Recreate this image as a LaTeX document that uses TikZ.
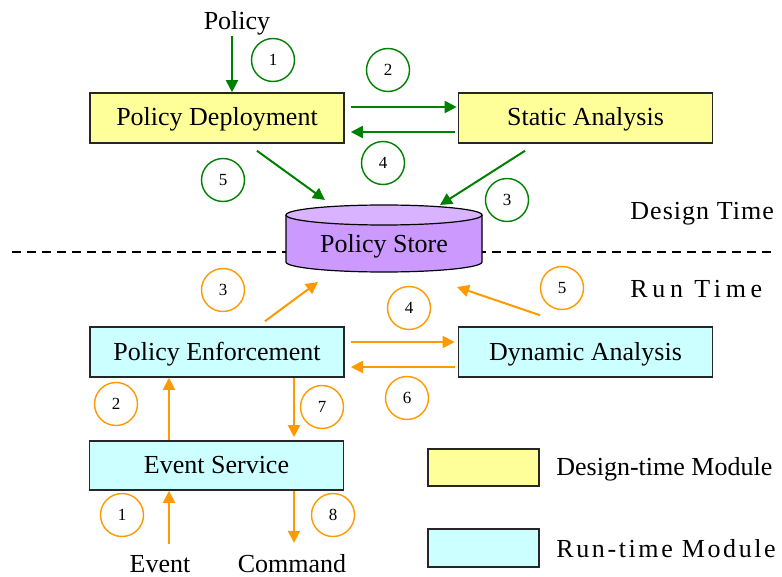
\documentclass[tikz,border=0pt]{standalone}
\usepackage{fontspec}
\setmainfont{Liberation Serif}
\newfontfamily\widefont[LetterSpace=18]{Liberation Serif}
\newfontfamily\halfwidefont[LetterSpace=10]{Liberation Serif}
\newfontfamily\slightwidefont[LetterSpace=4]{Liberation Serif}
\usetikzlibrary{arrows.meta,calc}

\definecolor{dgreen}{HTML}{008000}
\definecolor{amber}{HTML}{FF9900}
\definecolor{paleyellow}{HTML}{FFFF99}
\definecolor{palecyan}{HTML}{CCFFFF}
\definecolor{lilac}{HTML}{CC99FF}
\definecolor{lilactop}{HTML}{D9B3FF}

\tikzset{
  module/.style={draw=black!85,line width=0.8pt,minimum width=127pt,minimum height=25pt,inner sep=0pt,
    text height=9.5pt,text depth=1.5pt},
  design/.style={module,fill=paleyellow},
  runtime/.style={module,fill=palecyan},
  flow/.style={-{Triangle[length=6pt,width=6pt]},line width=1pt},
  garrow/.style={flow,draw=dgreen},
  oarrow/.style={flow,draw=amber},
  stepnum/.style={circle,line width=0.7pt,minimum size=21.5pt,inner sep=0pt,font=\fontsize{8.5}{9}\selectfont},
  stepg/.style={stepnum,draw=dgreen},
  stepo/.style={stepnum,draw=amber},
}

\begin{document}
\begin{tikzpicture}[x=0.5pt,y=-0.5pt,font=\fontsize{13}{15}\selectfont]
  \useasboundingbox (0,0) rectangle (782,577);
  % border between the two phases
  \draw[line width=0.75pt,dash pattern=on 4.5pt off 3pt] (12,252) -- (772,252);
  \node[anchor=west,inner sep=0pt] (dtime) at (630,214) {\slightwidefont Design Time};
  \node[anchor=west,inner sep=0pt] (rtime) at (630,289) {\widefont Run Time};
  % store (cylinder)
  \fill[lilac] (286,215) -- (286,262) arc[start angle=180,end angle=360,x radius=49pt,y radius=5pt] -- (482,215) -- cycle;
  \draw[line width=0.6pt] (286,215) -- (286,262) arc[start angle=180,end angle=360,x radius=49pt,y radius=5pt] -- (482,215);
  \filldraw[fill=lilactop,line width=0.6pt] (384,215) ellipse[x radius=49pt,y radius=5pt];
  \node (store) at (384,246.5) {Policy Store};
  \coordinate (stop) at (384,205);
  \coordinate (sbot) at (384,272);
  % design time
  \node[design] (pd) at (217,118) {Policy Deployment};
  \node[design] (sa) at (585.5,118) {Static Analysis};
  \node (pol) at (237,23) {Policy};
  \draw[garrow,shorten <=-3pt] ([xshift=-2.5pt]pol.south) -- ([xshift=-2.5pt]pol.south |- pd.north);
  \draw[garrow] ($(pd.east)+(6,-11)$) -- ($(sa.west)+(-1,-11)$);
  \draw[garrow] ($(sa.west)+(-3,14)$) -- ($(pd.east)+(6,14)$);
  \draw[garrow] ($(pd.south)+(40,7)$) -- ($(stop)+(-59,-5)$);
  \draw[garrow] ($(sa.south)+(-60.5,7)$) -- ($(stop)+(56,0)$);
  \node[stepg] (g1) at (273,60) {1};
  \node[stepg] (g2) at (388,70) {2};
  \node[stepg] (g3) at (507,200) {3};
  \node[stepg] (g4) at (383,163) {4};
  \node[stepg] (g5) at (223,180) {5};
  % run time
  \node[runtime] (pe) at (217,352) {Policy Enforcement};
  \node[runtime,minimum height=24.5pt] (es) at (216.5,465.5) {Event Service};
  \node[runtime] (da) at (585.5,352) {Dynamic Analysis};
  \node (ev) at (160,564) {Event};
  \node (cmd) at (292,564) {Command};
  \draw[oarrow] ($(pe.north)+(48,-5)$) -- ($(sbot)+(-66,10)$);
  \draw[oarrow] ($(da.north)+(-45.5,-11)$) -- ($(sbot)+(73,15)$);
  \draw[oarrow] ($(pe.east)+(6,-10)$) -- ($(da.west)+(-3,-10)$);
  \draw[oarrow] ($(da.west)+(-3,15)$) -- ($(pe.east)+(6,15)$);
  \coordinate (a2) at ($(es.north)+(-47.5,0)$);
  \coordinate (a7) at ($(pe.south)+(77,0)$);
  \draw[oarrow] (a2) -- (a2 |- pe.south);
  \draw[oarrow,shorten >=1.5pt] (a7) -- (a7 |- es.north);
  \draw[oarrow,shorten <=2pt] (a2 |- ev.north) -- (a2 |- es.south);
  \draw[oarrow,shorten >=2.5pt] (a7 |- es.south) -- (a7 |- cmd.north);
  \node[stepo] (o1) at (122,515) {1};
  \node[stepo] (o2) at (116,404) {2};
  \node[stepo] (o3) at (223,290) {3};
  \node[stepo] (o4) at (409,308) {4};
  \node[stepo] (o5) at (562,288) {5};
  \node[stepo] (o6) at (407,398) {6};
  \node[stepo] (o7) at (322,407) {7};
  \node[stepo] (o8) at (333,515) {8};
  % legend
  \node[design,minimum width=55.5pt,minimum height=18.5pt] (keyd) at (483.5,467.5) {};
  \node[runtime,minimum width=55.5pt,minimum height=19pt] (keyr) at (483.5,548) {};
  \node[anchor=west,inner sep=0pt] (keydt) at (556,469) {Design-time Module};
  \node[anchor=west,inner sep=0pt] (keyrt) at (556,549) {\halfwidefont Run-time Module};
\end{tikzpicture}
\end{document}
